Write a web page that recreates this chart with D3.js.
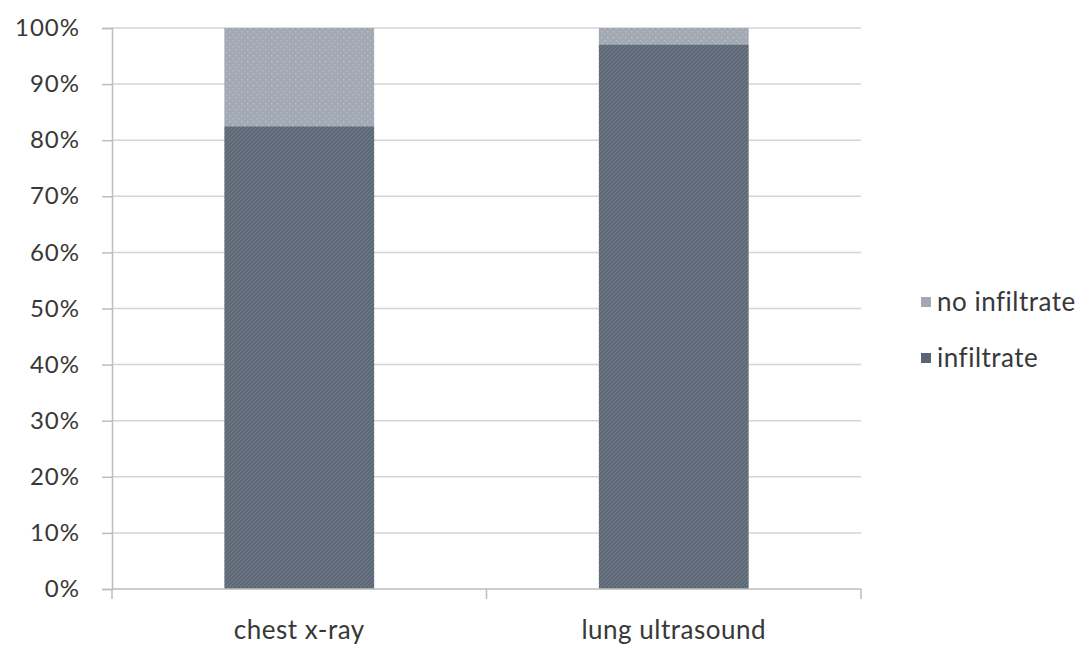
<!DOCTYPE html>
<html>
<head>
<meta charset="utf-8">
<script src="https://cdn.jsdelivr.net/npm/d3@7"></script>
<style>
  html, body { margin: 0; padding: 0; background: #fff; }
  svg { display: block; }
  text { font-family: Lato, "Open Sans", sans-serif; fill: #383838; }
</style>
</head>
<body>
<svg id="chart" width="1087" height="645"></svg>
<script>
// Share of patients with / without an infiltrate by imaging method (percent)
const categories = ["chest x-ray", "lung ultrasound"];
const infiltrate = [82.5, 97.1];
const noInfiltrate = [17.5, 2.9];
const seriesNames = ["infiltrate", "no infiltrate"];
const yTicks = [0, 10, 20, 30, 40, 50, 60, 70, 80, 90, 100];

const svg = d3.select("#chart");
const margin = { left: 112, right: 226, top: 28, bottom: 56 };
const W = 1087, H = 645;

const x = d3.scaleBand()
  .domain(categories)
  .range([margin.left, W - margin.right])
  .paddingInner(0.6)
  .paddingOuter(0.3);

const y = d3.scaleLinear()
  .domain([0, 100])
  .range([H - margin.bottom, margin.top]);

// Fill patterns: diagonal hatch for infiltrate, dotted grey for no infiltrate
const defs = svg.append("defs");
const hatch = defs.append("pattern")
  .attr("id", "hatch")
  .attr("patternUnits", "userSpaceOnUse")
  .attr("width", 4).attr("height", 4);
hatch.append("rect").attr("width", 4).attr("height", 4).attr("fill", "#5a6574");
hatch.append("path")
  .attr("d", "M-1,1 L1,-1 M0,4 L4,0 M3,5 L5,3")
  .attr("stroke", "#727d8b").attr("stroke-width", 1.1);

const dots = defs.append("pattern")
  .attr("id", "dots")
  .attr("patternUnits", "userSpaceOnUse")
  .attr("width", 6).attr("height", 6);
dots.append("rect").attr("width", 6).attr("height", 6).attr("fill", "#a2a9b2");
dots.append("rect").attr("x", 1).attr("y", 1).attr("width", 1.5).attr("height", 1.5).attr("fill", "#b9bfc7");
dots.append("rect").attr("x", 4).attr("y", 4).attr("width", 1.5).attr("height", 1.5).attr("fill", "#b3b9c1");

// Gridlines
svg.append("g")
  .selectAll("line")
  .data(yTicks.filter(d => d > 0))
  .join("line")
  .attr("x1", margin.left).attr("x2", W - margin.right)
  .attr("y1", d => y(d)).attr("y2", d => y(d))
  .attr("stroke", "#d4d4d4").attr("stroke-width", 1.5);

// Stacked bars
const stackData = categories.map((c, i) => ({ cat: c, infiltrate: infiltrate[i], "no infiltrate": noInfiltrate[i] }));
const stack = d3.stack().keys(seriesNames)(stackData);
const fills = { "infiltrate": "url(#hatch)", "no infiltrate": "url(#dots)" };

svg.append("g")
  .selectAll("g")
  .data(stack)
  .join("g")
  .attr("fill", d => fills[d.key])
  .selectAll("rect")
  .data(d => d)
  .join("rect")
  .attr("x", d => x(d.data.cat))
  .attr("width", x.bandwidth())
  .attr("y", d => y(d[1]))
  .attr("height", d => y(d[0]) - y(d[1]));

// Y axis
const yAxis = svg.append("g")
  .attr("transform", `translate(${margin.left},0)`)
  .call(d3.axisLeft(y).tickValues(yTicks).tickFormat(d => d + "%").tickSize(10).tickPadding(22));
yAxis.select(".domain").attr("stroke", "#bdbdbd").attr("stroke-width", 1.5);
yAxis.selectAll(".tick line").attr("stroke", "#bdbdbd").attr("stroke-width", 1.5);
yAxis.selectAll(".tick text")
  .attr("font-size", 24)
  .attr("letter-spacing", 1)
  .attr("font-family", "Lato, 'Open Sans', sans-serif")
  .attr("fill", "#383838");

// X axis with boundary ticks between categories
const xAxisG = svg.append("g").attr("transform", `translate(0,${y(0)})`);
xAxisG.append("line")
  .attr("x1", margin.left).attr("x2", W - margin.right)
  .attr("stroke", "#bdbdbd").attr("stroke-width", 1.5);
const bounds = [margin.left, margin.left + (W - margin.right - margin.left) / 2, W - margin.right];
xAxisG.selectAll("line.tk")
  .data(bounds)
  .join("line")
  .attr("class", "tk")
  .attr("x1", d => d).attr("x2", d => d)
  .attr("y1", 0).attr("y2", 10)
  .attr("stroke", "#bdbdbd").attr("stroke-width", 1.5);
xAxisG.selectAll("text")
  .data(categories)
  .join("text")
  .attr("x", d => x(d) + x.bandwidth() / 2)
  .attr("y", 50)
  .attr("text-anchor", "middle")
  .attr("font-size", 26)
  .attr("letter-spacing", 0.5)
  .text(d => d);

// Legend
const legendItems = ["no infiltrate", "infiltrate"];
const legend = svg.append("g").attr("transform", "translate(921,302)");
legend.selectAll("g")
  .data(legendItems)
  .join("g")
  .attr("transform", (d, i) => `translate(0,${i * 56})`)
  .each(function(d) {
    const g = d3.select(this);
    g.append("rect").attr("x", 0).attr("y", -5).attr("width", 10).attr("height", 10)
      .attr("fill", d === "infiltrate" ? "#5a6574" : "#a2a9b2");
    g.append("text").attr("x", 16).attr("y", 0).attr("dy", "0.35em")
      .attr("font-size", 26).attr("letter-spacing", 0.5).text(d);
  });
</script>
</body>
</html>
